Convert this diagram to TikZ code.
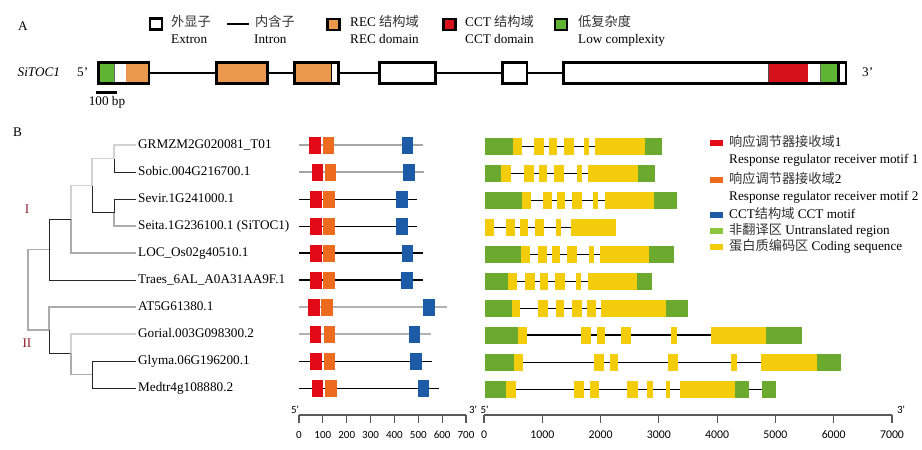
\documentclass[tikz,border=0pt]{standalone}
\usepackage{fontspec}
\setmainfont{Liberation Serif}
\newfontfamily\cjk{Noto Sans CJK SC}
\newfontfamily\axf{Carlito}
\definecolor{mred}{HTML}{E30A17}
\definecolor{mora}{HTML}{EC6B1E}
\definecolor{mblue}{HTML}{1D5BA6}
\definecolor{ggreen}{HTML}{6BAA2F}
\definecolor{gyel}{HTML}{F3CC0C}
\definecolor{aora}{HTML}{E9984C}
\definecolor{ared}{HTML}{D7111B}
\definecolor{agreen}{HTML}{5DB532}
\definecolor{lgreen}{HTML}{8DC63F}
\definecolor{clr}{HTML}{8E1B2A}
\newcommand\zh[1]{{\cjk\color{black!80}#1}}
\newcommand\gfill[3]{\foreach \a/\b in {#3}{\fill[#1] (\a,#2-8.5) rectangle (\b,#2+8.5);}}
\begin{document}
\begin{tikzpicture}[x=1pt,y=-1pt,
  txt/.style={font=\fontsize{13.2}{15}\selectfont, inner sep=0pt, anchor=west, text height=9.2pt, text depth=2.8pt},
  axt/.style={font=\axf\fontsize{11}{13}\selectfont, inner sep=0pt},
  axg/.style={font=\axf\fontsize{11.8}{13}\selectfont, inner sep=0pt},
  exbox/.style={draw=black, line width=2.7pt, rectangle, inner sep=0pt, minimum height=21.3pt, fill=white},
  lgbox/.style={draw=black, line width=2.4pt, rectangle, inner sep=0pt, minimum width=12.1pt, minimum height=11.1pt},
  intr/.style={line width=1.5pt},
  trG/.style={gray!65, line width=1.1pt},
  trL/.style={gray!35, line width=1.1pt},
  trK/.style={black!85, line width=0.9pt},
  moG/.style={gray!70, line width=1.4pt},
  moK/.style={black, line width=0.9pt},
  moKK/.style={black, line width=1.5pt},
  moGG/.style={gray!60, line width=1.1pt},
  geK/.style={black, line width=0.9pt},
  geKK/.style={black, line width=1.6pt},
  axl/.style={black!65, line width=1.1pt}
]
\useasboundingbox (0,0) rectangle (922,450);
\fill[white] (0,0) rectangle (922,450);

% ---------------- Panel A ----------------
\node[txt, anchor=center] (pA) at (23,27.5) {A};
\node[lgbox, fill=white] (k1) at (156.2,24) {};
\node[txt] (t1) at (171,23) {\zh{外显子}};
\node[txt] at (171,40) {Extron};
\coordinate (k2a) at (227,24); \coordinate (k2b) at (249,24);
\draw[line width=2.5pt] (k2a) -- (k2b);
\node[txt] at (255,23) {\zh{内含子}};
\node[txt] at (254,40) {Intron};
\node[lgbox, fill=aora] (k3) at (333.4,24.6) {};
\node[txt] at (350,23) {REC \zh{结构域}};
\node[txt] at (350,40) {REC domain};
\node[lgbox, fill=ared] (k4) at (449.5,24.5) {};
\node[txt] at (465,23) {CCT \zh{结构域}};
\node[txt] at (465,40) {CCT domain};
\node[lgbox, fill=agreen] (k5) at (561,24.5) {};
\node[txt] at (578,23) {\zh{低复杂度}};
\node[txt] at (578,40) {Low complexity};

\node[txt] (gname) at (17.5,73) {\textit{SiTOC1}};
\node[txt] (g5) at (77,73) {5'};
\node[txt] (g3) at (862,73) {3'};

\node[exbox, minimum width=50.3pt] (e1) at (123.8,73) {};
\node[exbox, fill=aora, minimum width=51pt] (e2) at (241.85,73) {};
\node[exbox, minimum width=44.3pt] (e3) at (316.5,73) {};
\node[exbox, minimum width=56pt] (e4) at (407.65,73) {};
\node[exbox, minimum width=24.6pt] (e5) at (514.65,73) {};
\node[exbox, minimum width=282.3pt] (e6) at (704.8,73) {};
\draw[intr] (e1.east) -- (e2.west);
\draw[intr] (e2.east) -- (e3.west);
\draw[intr] (e3.east) -- (e4.west);
\draw[intr] (e4.east) -- (e5.west);
\draw[intr] (e5.east) -- (e6.west);
% inner parts
\fill[agreen] (100,63.7) rectangle (114.3,82.3);
\draw[black!60, line width=0.6pt] (114.6,63.7) -- (114.6,82.3);
\fill[aora] (125.5,63.7) rectangle (147.6,82.3);
\fill[aora] (295.7,63.7) rectangle (330.8,82.3);
\draw[line width=1.4pt] (331.6,63.7) -- (331.6,82.3);
\draw[black!70, line width=0.8pt] (768.4,63.7) -- (768.4,82.3);
\fill[ared] (769,63.7) rectangle (807.7,82.3);
\draw[black!60, line width=0.6pt] (820.6,63.7) -- (820.6,82.3);
\fill[agreen] (821,63.7) rectangle (836.7,82.3);
\fill[black] (836.7,63.7) rectangle (840.2,82.3);

\coordinate (sb1) at (96,92.5); \coordinate (sb2) at (117,92.5);
\draw[line width=2.5pt] (sb1) -- (sb2);
\node[txt, anchor=center] (sbl) at (107,102.5) {100 bp};

% ---------------- Panel B ----------------
\node[txt, anchor=center] (pB) at (17.5,133) {B};

\foreach \i/\y/\t in {1/145/GRMZM2G020081\_T01, 2/172/Sobic.004G216700.1, 3/199/Sevir.1G241000.1,
  4/226/Seita.1G236100.1 (SiTOC1), 5/253/LOC\_Os02g40510.1, 6/280/Traes\_6AL\_A0A31AA9F.1,
  7/307/AT5G61380.1, 8/334/Gorial.003G098300.2, 9/361/Glyma.06G196200.1, 10/388/Medtr4g108880.2}
  {\node[txt, inner xsep=2.5pt] (L\i) at (135.5,\y) {\t};}

% tree
\coordinate (n12) at (114,158.5);
\coordinate (n34) at (114,212.5);
\coordinate (nb) at (92,185.5);
\coordinate (nc) at (71,219);
\coordinate (nd) at (49,249.5);
\coordinate (ne) at (92,374.5);
\coordinate (nf) at (71,353);
\coordinate (ng) at (49,330);
\coordinate (rt) at (28,290);
\draw[trL] (n12) |- (L1.west);
\draw[trK] (n12) |- (L2.west);
\draw[trK] (n34) |- (L3.west);
\draw[trG] (n34) |- (L4.west);
\draw[trL] (nb) |- (n12);
\draw[trK] (nb) |- (n34);
\draw[trL] (nc) |- (nb);
\draw[trG] (nc) |- (L5.west);
\draw[trK] (nd) |- (nc);
\draw[trK] (nd) |- (L6.west);
\draw[trG] (rt) |- (nd);
\draw[trG] (rt) |- (ng);
\draw[trG] (ng) |- (L7.west);
\draw[trK] (ng) |- (nf);
\draw[trL] (nf) |- (L8.west);
\draw[trG] (nf) |- (ne);
\draw[trK] (ne) |- (L9.west);
\draw[trK] (ne) |- (L10.west);
\node[txt, anchor=center, text=clr] (cI) at (27,210) {I};
\node[txt, anchor=center, text=clr] (cII) at (27,344) {II};

% motif panel
\foreach \y/\e/\s/\ra/\rb/\oa/\ob/\ba/\bb in {
  145/423/moG/309/321/323/334/402/413,
  172/424/moG/312/323/325/336/403/415,
  199/417/moK/310/322/323/335/396/408,
  226/417/moK/310/322/323/335/396/408,
  253/423/moKK/310/322/323/335/402/413,
  280/423/moKK/310/322/323/335/401/413,
  307/447/moGG/308/320/321/333/423/435,
  334/431/moGG/310/321/324/335/409/420,
  361/432/moK/310/322/324/335/410/422,
  388/439/moK/312/323/325/337/418/429}
{\draw[\s] (299,\y) -- (\e,\y);
 \fill[mred] (\ra,\y-8.5) rectangle (\rb,\y+8.5);
 \fill[mora] (\oa,\y-8.5) rectangle (\ob,\y+8.5);
 \fill[mblue] (\ba,\y-8.5) rectangle (\bb,\y+8.5);}

% motif axis
\coordinate (ma0) at (299,415); \coordinate (ma1) at (466,415);
\draw[axl] (ma0) -- (ma1);
\foreach \k/\t in {0/0,1/100,2/200,3/300,4/400,5/500,6/600,7/700}
 {\draw[axl] (299+23.857*\k,415) -- ++(0,8);
  \node[axt] at (299+23.857*\k,435) {\t};}
\node[axt] (m5) at (295,409.5) {5'};
\node[axt] (m3) at (473,409.5) {3'};

% gene structure panel
\foreach \y/\e/\s in {146.5/662/geK,173.5/655/geKK,200.5/676.7/geKK,227.5/616.3/geK,254.5/674.3/geK,
  281.5/652.3/geK,308/687.7/geK,335/801.7/geKK,362/841/geK,389/775.7/geK}
 {\draw[\s] (484.7,\y) -- (\e,\y);}
\gfill{ggreen}{146.5}{484.7/513.3, 645/662}
\gfill{gyel}{146.5}{513.3/521.7, 534.3/544, 549.3/557, 564.3/574, 584/589, 595/645}
\gfill{ggreen}{173.5}{484.7/501, 637.7/655}
\gfill{gyel}{173.5}{501/511.3, 524.3/533.7, 539/547, 554.3/563.7, 577/581.7, 588.3/637.7}
\gfill{ggreen}{200.5}{484.7/522, 654/676.7}
\gfill{gyel}{200.5}{522/531, 543/552, 557/564.7, 572.3/582, 593/597.7, 604.7/654}
\gfill{gyel}{227.5}{484.7/494, 505.7/515, 519.7/527.7, 535/544.3, 556/560.7, 571/616.3}
\gfill{ggreen}{254.5}{484.7/521, 649/674.3}
\gfill{gyel}{254.5}{521/530, 538/547.3, 552/560, 567.3/577, 589/594, 599.7/649}
\gfill{ggreen}{281.5}{484.7/508, 637/652.3}
\gfill{gyel}{281.5}{508/517.3, 525.3/534.7, 540/547.7, 555/564.7, 576/580.7, 587.7/637}
\gfill{ggreen}{308}{484.7/512, 666/687.7}
\gfill{gyel}{308}{512/520, 538.3/548, 556/563.7, 572.3/582.3, 587/596, 601/666}
\gfill{ggreen}{335}{484.7/517.7, 766.3/801.7}
\gfill{gyel}{335}{517.7/527, 581/590.7, 597/605.3, 621/631, 671.3/677, 711/766.3}
\gfill{ggreen}{362}{484.7/514, 817/841}
\gfill{gyel}{362}{514/523.3, 594.3/604, 610/618, 668/678, 731/736.7, 761.3/817}
\gfill{ggreen}{389}{484.7/506, 735/749.3, 762.3/775.7}
\gfill{gyel}{389}{506/516, 574.3/584, 590/598.7, 627/638.3, 647/653.3, 666.3/670, 680.3/735}

% gene axis
\coordinate (ga0) at (484,415); \coordinate (ga1) at (892,415);
\draw[axl] (ga0) -- (ga1);
\foreach \k/\t in {0/0,1/1000,2/2000,3/3000,4/4000,5/5000,6/6000,7/7000}
 {\draw[axl] (484+58.286*\k,415) -- ++(0,8);
  \node[axg] at (484+58.286*\k,435) {\t};}
\node[axt] (g5a) at (484.5,409.5) {5'};
\node[axt] (g3a) at (901,410) {3'};

% right legend
\foreach \y/\c in {143/mred,180/mora,215/mblue,231/lgreen,247/gyel}
 {\fill[\c] (710,\y-3.2) rectangle (723,\y+3.2);}
\node[txt] (r1) at (729,143) {\zh{响应调节器接收域}1};
\node[txt] (r1b) at (729,160) {Response regulator receiver motif 1};
\node[txt] (r2) at (729,180) {\zh{响应调节器接收域}2};
\node[txt] (r2b) at (729,197) {Response regulator receiver motif 2};
\node[txt] (r3) at (729,215) {CCT\zh{结构域} CCT motif};
\node[txt] (r4) at (729,231) {\zh{非翻译区} Untranslated region};
\node[txt] (r5) at (729,247) {\zh{蛋白质编码区} Coding sequence};
\end{tikzpicture}
\end{document}
